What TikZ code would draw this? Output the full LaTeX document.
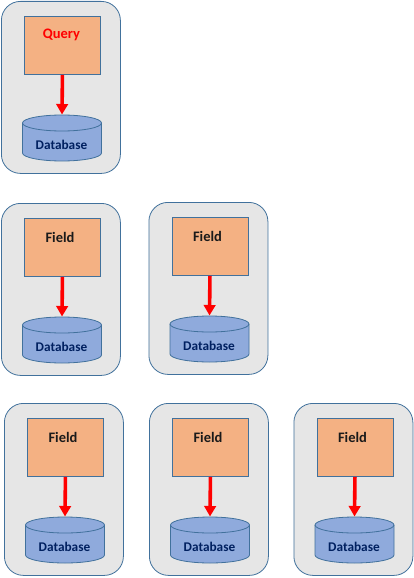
\documentclass[tikz,border=0pt]{standalone}
\usepackage{fontspec}
\setmainfont{Carlito}
\usetikzlibrary{arrows.meta}
\definecolor{panelfill}{HTML}{E6E6E6}
\definecolor{edgeblue}{HTML}{41719C}
\definecolor{boxfill}{HTML}{F4B183}
\definecolor{dbfill}{HTML}{8FAADC}
\definecolor{dbtext}{HTML}{002060}
\definecolor{fieldtext}{HTML}{1A1A1A}
\tikzset{
  panelbox/.style={draw=edgeblue,fill=panelfill,line width=0.8pt,rounded corners=19pt,minimum width=119pt,minimum height=172pt,inner sep=0pt,anchor=north west},
  taskbox/.style={draw=edgeblue,fill=boxfill,line width=0.9pt,minimum width=76pt,minimum height=58pt,inner sep=0pt,anchor=north west},
  dbanchor/.style={minimum width=79pt,minimum height=46pt,inner sep=0pt,outer sep=0pt,anchor=north},
  dbline/.style={draw=edgeblue,fill=dbfill,line width=0.8pt},
  tasklabel/.style={font=\bfseries\fontsize{14.5}{16}\selectfont,inner sep=0pt,anchor=center},
  dblabel/.style={font=\bfseries\fontsize{13.3}{15}\selectfont,text=dbtext,inner sep=0pt,anchor=center},
  flow/.style={draw=red,line width=3.6pt,-{Triangle[width=11.5pt,length=10.5pt]},shorten >=0.5pt}
}
\newcommand{\unitblock}[6]{%
  \node[panelbox] (p#1) at (#2,#3) {};
  \node[taskbox] (b#1) at (#2+23,#3+15) {};
  \node[dbanchor] (d#1) at (#2+61,#3+114) {};
  \path[dbline] ([yshift=-8pt]d#1.north west) -- ([yshift=8pt]d#1.south west)
     arc[start angle=180,end angle=360,x radius=39.5pt,y radius=8pt]
     -- ([yshift=-8pt]d#1.north east)
     arc[start angle=0,end angle=180,x radius=39.5pt,y radius=8pt] -- cycle;
  \draw[draw=edgeblue,line width=0.8pt] ([yshift=-8pt]d#1.north west)
     arc[start angle=180,end angle=360,x radius=39.5pt,y radius=8pt];
  \node[tasklabel,text=#5] (t#1) at (#2+#6,#3+34) {#4};
  \node[dblabel] (l#1) at (#2+60.5,#3+144) {Database};
  \draw[flow] (b#1.south) -- (d#1.north);
}
\begin{document}
\begin{tikzpicture}[x=1pt,y=-1pt]
\useasboundingbox (0,0) rectangle (414,578);
\unitblock{a}{1}{1}{Query}{red}{60.5}
\unitblock{b}{1}{203}{Field}{fieldtext}{59}
\unitblock{c}{148.5}{202}{Field}{fieldtext}{59}
\unitblock{d}{4}{403}{Field}{fieldtext}{59}
\unitblock{e}{149}{403}{Field}{fieldtext}{59}
\unitblock{f}{293.5}{403}{Field}{fieldtext}{59}
\end{tikzpicture}
\end{document}
